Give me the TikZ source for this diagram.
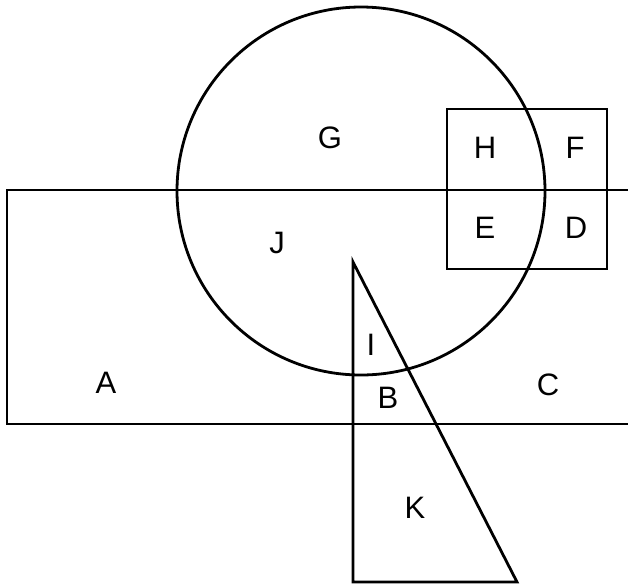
\documentclass[tikz,border=0pt]{standalone}
\usepackage{fontspec}
\setmainfont{Liberation Sans}
\begin{document}
\begin{tikzpicture}[x=1pt,y=-1pt,
  shp/.style={draw=black,line width=2.8pt,line join=miter},
  lbl/.style={inner sep=0pt,font=\fontsize{31}{31}\selectfont}]
\useasboundingbox[fill=white] (0,0) rectangle (628,587);
% rectangle open on the right
\draw[shp] (628,190) -- (7,190) -- (7,424) -- (628,424);
% circle
\draw[shp] (361,191) circle[radius=184];
% small square
\draw[shp] (447,109) rectangle (607,269);
% triangle
\draw[shp] (353,262) -- (353,582) -- (517,582) -- cycle;
% labels
\node[lbl] (G) at (330,138) {G};
\node[lbl] (H) at (485,148) {H};
\node[lbl] (F) at (575,148) {F};
\node[lbl] (E) at (485,228) {E};
\node[lbl] (D) at (576,228) {D};
\node[lbl] (J) at (277,243) {J};
\node[lbl] (I) at (371,345) {I};
\node[lbl] (B) at (388,398) {B};
\node[lbl] (C) at (548,385) {C};
\node[lbl] (A) at (106,383) {A};
\node[lbl] (K) at (415,508) {K};
\end{tikzpicture}
\end{document}
